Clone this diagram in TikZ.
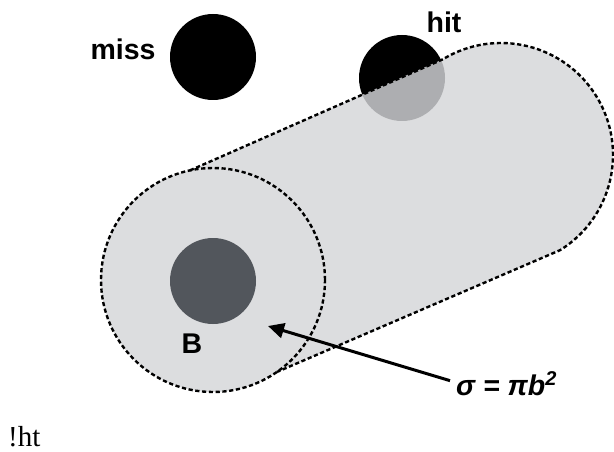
\documentclass[tikz,border=0pt]{standalone}
\usepackage{fontspec}
\newfontfamily\hv{Liberation Sans}
\newfontfamily\sr{Liberation Serif}
\usetikzlibrary{calc,arrows.meta}
\definecolor{cyl}{RGB}{212,213,216}
\definecolor{bdark}{RGB}{82,86,92}
\begin{document}
\begin{tikzpicture}[x=1pt,y=1pt,
  ball/.style={circle,fill=black,minimum size=86pt,inner sep=0pt},
  dashline/.style={line width=2.4pt,dash pattern=on 4.2pt off 2.6pt},
  lab/.style={font=\hv\bfseries\fontsize{28.5}{32}\selectfont,inner sep=0pt}]
\useasboundingbox (0,0) rectangle (614,451);
\coordinate (F) at (213,171);
\coordinate (K) at (501,296);
\node[ball] (miss) at (213,394) {};
\node[ball] (hit) at (402,373) {};
\fill[cyl,fill opacity=0.82] ($(F)+(101.9:112pt)$) -- ($(K)+(121.3:112pt)$)
  arc[start angle=121.3,end angle=-58.2,radius=112pt] -- ($(F)+(-55.2:112pt)$)
  arc[start angle=-55.2,end angle=-258.1,radius=112pt] -- cycle;
\draw[dashline] ($(F)+(101.9:112pt)$) -- ($(K)+(121.3:112pt)$)
  arc[start angle=121.3,end angle=-58.2,radius=112pt] -- ($(F)+(-55.2:112pt)$);
\draw[dashline] (F) circle[radius=112pt];
\node[circle,fill=bdark,minimum size=86pt,inner sep=0pt] (bc) at (213,170) {};
\node[lab,anchor=base] (misslab) at (123,391) {miss};
\node[lab,anchor=base] (hitlab) at (444,418) {hit};
\node[lab,anchor=base] (blab) at (192,98) {B};
\node[lab,anchor=base west,font=\hv\bfseries\itshape\fontsize{28.5}{32}\selectfont] (sig) at (456,56) {σ = πb\textsuperscript{2}};
\coordinate (tip) at (268,125);
\draw[line width=3pt,-{Triangle[length=16pt,width=15pt]}] ([xshift=-6pt,yshift=3pt]sig.west) -- (tip);
\node[anchor=base west,inner sep=0pt,font=\sr\fontsize{29}{32}\selectfont] (ht) at (8,5) {!ht};
\end{tikzpicture}
\end{document}
